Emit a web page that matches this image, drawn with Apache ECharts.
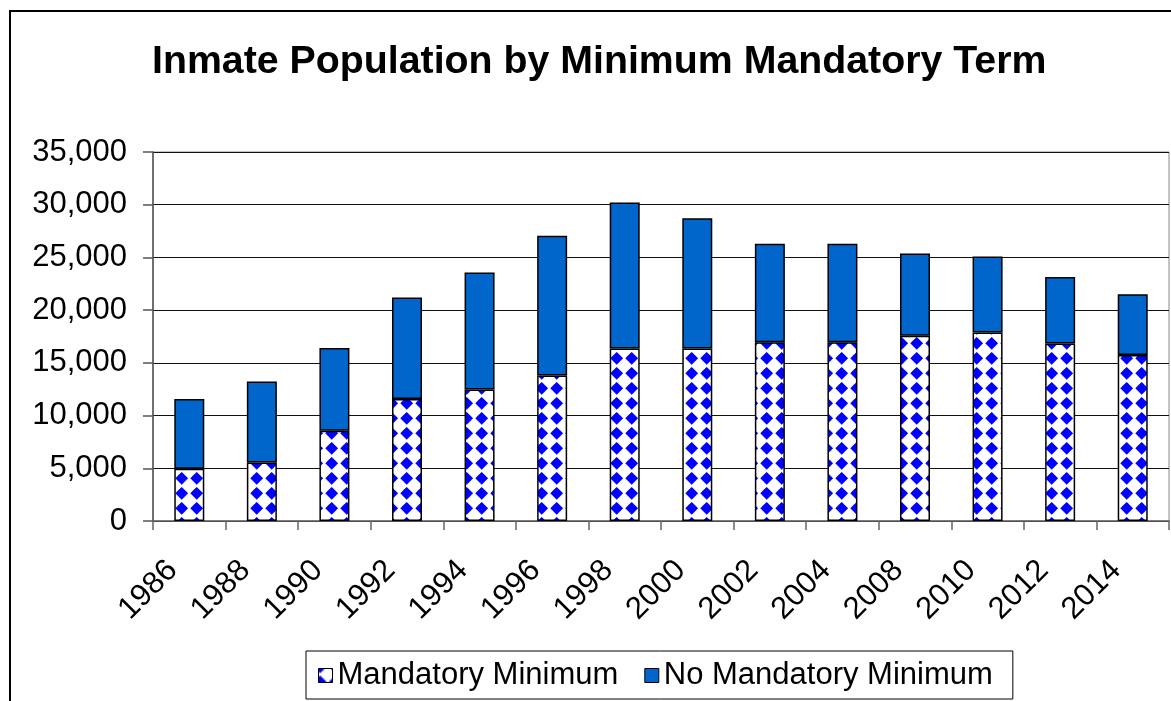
<!DOCTYPE html>
<html>
<head>
<meta charset="utf-8">
<script src="https://cdn.jsdelivr.net/npm/echarts@6/dist/echarts.min.js"></script>
<style>
html,body{margin:0;padding:0;background:#fff;}
#chart{width:1171px;height:701px;}
</style>
</head>
<body>
<div id="chart"></div>
<script>
const titleText = 'Inmate Population by Minimum Mandatory Term';
const years = ['1986','1988','1990','1992','1994','1996','1998','2000','2002','2004','2008','2010','2012','2014'];
const mandatoryMinimum = [4950, 5560, 8550, 11580, 12470, 13800, 16350, 16350, 16950, 16950, 17580, 17870, 16830, 15750];
const noMandatoryMinimum = [6630, 7670, 7860, 9630, 11110, 13250, 13860, 12370, 9350, 9350, 7800, 7220, 6310, 5750];
const seriesNames = ['Mandatory Minimum', 'No Mandatory Minimum'];
const yTicks = [0, 5000, 10000, 15000, 20000, 25000, 30000, 35000];

const FONT = "'Liberation Sans', Arial, sans-serif";

function makePattern() {
  const P = 15;
  const c = document.createElement('canvas');
  c.width = P; c.height = P;
  const g = c.getContext('2d');
  g.fillStyle = '#ffffff';
  g.fillRect(0, 0, P, P);
  g.fillStyle = '#0000ff';
  const cx = 1.7, cy = 13.3, r = 6.4;
  for (let dx = -1; dx <= 1; dx++) {
    for (let dy = -1; dy <= 1; dy++) {
      const x = cx + dx * P, y = cy + dy * P;
      g.beginPath();
      g.moveTo(x, y - r);
      g.lineTo(x + r, y);
      g.lineTo(x, y + r);
      g.lineTo(x - r, y);
      g.closePath();
      g.fill();
    }
  }
  return c;
}
const patternFill = { image: makePattern(), repeat: 'repeat' };

const chart = echarts.init(document.getElementById('chart'), null, { renderer: 'canvas' });
chart.setOption({
  animation: false,
  backgroundColor: '#ffffff',
  title: {
    text: titleText,
    left: 152,
    top: 42,
    padding: 0,
    textStyle: { fontFamily: FONT, fontSize: 39.3, fontWeight: 'bold', color: '#000', lineHeight: 40 }
  },
  graphic: [{
    type: 'rect',
    shape: { x: 10, y: 11, width: 1220, height: 760 },
    style: { fill: 'none', stroke: '#000', lineWidth: 2 },
    silent: true,
    z: 100
  }],
  legend: {
    left: 306,
    top: 651,
    orient: 'horizontal',
    backgroundColor: '#fff',
    borderColor: '#000',
    borderWidth: 1,
    padding: [9, 20, 8, 12],
    itemWidth: 14,
    itemHeight: 14,
    itemGap: 26,
    icon: 'rect',
    itemStyle: { borderColor: '#000', borderWidth: 1 },
    textStyle: { fontFamily: FONT, fontSize: 31, color: '#000', lineHeight: 31 },
    data: seriesNames
  },
  grid: {
    left: 153, right: 2, top: 152, bottom: 180,
    show: true, borderColor: '#888', borderWidth: 1, backgroundColor: '#fff'
  },
  xAxis: {
    type: 'category',
    data: years,
    boundaryGap: true,
    axisLine: { show: true, lineStyle: { color: '#666', width: 1.5 } },
    axisTick: { show: true, length: 9, lineStyle: { color: '#666', width: 1.5 } },
    axisLabel: {
      rotate: 45, interval: 0, margin: 28,
      fontFamily: FONT, fontSize: 31, color: '#000',
      formatter: v => v + '\u00a0\u00a0\u2009'
    },
    splitLine: { show: false }
  },
  yAxis: {
    type: 'value',
    min: yTicks[0],
    max: yTicks[yTicks.length - 1],
    interval: 5000,
    axisLine: { show: true, lineStyle: { color: '#555', width: 1.5 } },
    axisTick: { show: true, length: 10, lineStyle: { color: '#555', width: 1.5 } },
    axisLabel: {
      margin: 26, fontFamily: FONT, fontSize: 31, color: '#000',
      formatter: v => v.toLocaleString('en-US')
    },
    splitLine: { show: true, lineStyle: { color: '#111', width: 1 } }
  },
  series: [
    {
      name: seriesNames[0],
      type: 'bar',
      stack: 'total',
      barWidth: 30,
      data: mandatoryMinimum,
      itemStyle: { color: patternFill, borderColor: '#000', borderWidth: 1.5 }
    },
    {
      name: seriesNames[1],
      type: 'bar',
      stack: 'total',
      barWidth: 30,
      data: noMandatoryMinimum,
      itemStyle: { color: '#0066cc', borderColor: '#000', borderWidth: 1.5 }
    }
  ]
});
</script>
</body>
</html>
